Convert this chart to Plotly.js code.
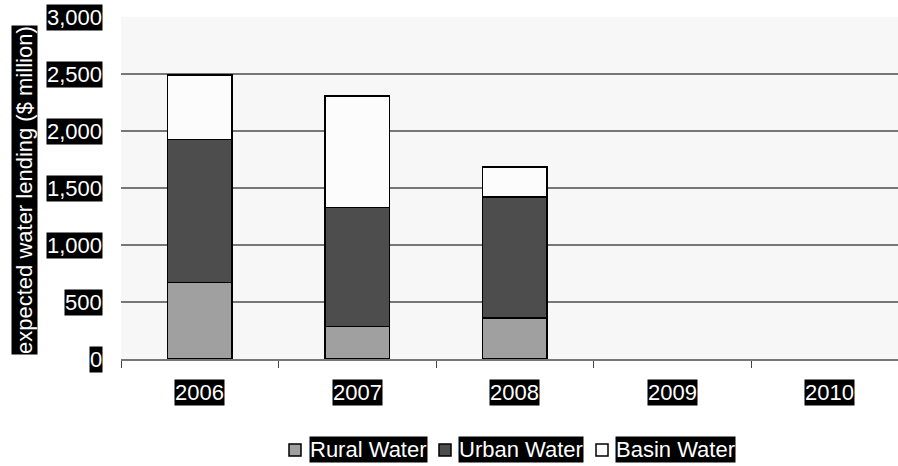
<!DOCTYPE html>
<html>
<head>
<meta charset="utf-8">
<script src="https://cdn.plot.ly/plotly-3.0.1.min.js"></script>
<style>html,body{margin:0;padding:0;background:#fff;}#chart{width:898px;height:466px;}</style>
</head>
<body>
<div id="chart"></div>
<script>
const years = ['2006', '2007', '2008', '2009', '2010'];
const seriesNames = ['Rural Water', 'Urban Water', 'Basin Water'];
const rural = [670, 285, 360, null, null];
const urban = [1255, 1045, 1060, null, null];
const basin = [565, 975, 265, null, null];
const yTicks = [0, 500, 1000, 1500, 2000, 2500, 3000];
const yTickLabels = ['0', '500', '1,000', '1,500', '2,000', '2,500', '3,000'];
const yTitle = 'expected water lending ($ million)';

const colors = ['#a0a0a0', '#4d4d4d', '#fcfcfc'];
const FONT = 'Arial, "Liberation Sans", sans-serif';
const values = [rural, urban, basin];

const traces = values.map((v, i) => ({
  type: 'bar', x: years, y: v, name: seriesNames[i],
  width: 0.41,
  marker: {color: colors[i], line: {color: '#000', width: 1.5}},
  showlegend: false, hoverinfo: 'skip'
}));

const annotations = [];
yTicks.forEach((t, i) => annotations.push({
  xref: 'paper', yref: 'y', x: 0, y: t, xanchor: 'right', yanchor: 'middle',
  xshift: -18, text: yTickLabels[i], showarrow: false, bgcolor: '#000', borderpad: 0,
  font: {family: FONT, size: 22, color: '#fff'}
}));
years.forEach((yr, i) => annotations.push({
  xref: 'x', yref: 'y', x: i, y: 0, xanchor: 'center', yanchor: 'top',
  yshift: -20, text: yr, showarrow: false, bgcolor: '#000', borderpad: 0,
  font: {family: FONT, size: 22, color: '#fff'}
}));
annotations.push({
  xref: 'paper', yref: 'paper', x: 0, y: 0.5, xanchor: 'center', yanchor: 'middle',
  xshift: -97, yshift: -2, text: yTitle, textangle: -90, showarrow: false, bgcolor: '#000', borderpad: 0,
  font: {family: FONT, size: 22, color: '#fff'}
});

// custom legend
const legendText = [309, 458, 615];
const swatchX = [289, 439, 596];
const shapes = [];
seriesNames.forEach((n, i) => {
  annotations.push({
    xref: 'paper', yref: 'paper', x: (legendText[i] - 121) / 777, y: 0,
    xanchor: 'left', yanchor: 'middle', yshift: -(449.5 - 359), text: n, showarrow: false,
    bgcolor: '#000', borderpad: 0, font: {family: FONT, size: 22, color: '#fff'}
  });
  shapes.push({
    type: 'rect', xref: 'paper', yref: 'paper', layer: 'above',
    x0: (swatchX[i] - 121) / 777, x1: (swatchX[i] + 12 - 121) / 777,
    y0: -(456 - 359) / 342, y1: -(444 - 359) / 342,
    fillcolor: colors[i], line: {color: '#000', width: 1.5}
  });
});

const layout = {
  width: 898, height: 466,
  margin: {l: 121, r: 0, t: 17, b: 107},
  paper_bgcolor: '#ffffff', plot_bgcolor: '#f7f7f7',
  barmode: 'stack', showlegend: false,
  font: {family: FONT, size: 22, color: '#000'},
  xaxis: {
    type: 'category', range: [-0.5, 4.433], tickson: 'boundaries',
    ticks: 'outside', ticklen: 7, tickcolor: '#444', tickwidth: 1,
    showticklabels: false, showline: true, linecolor: '#777', linewidth: 1.5,
    showgrid: false, zeroline: false, fixedrange: true
  },
  yaxis: {
    range: [0, 3000], tickvals: yTicks.slice(1, -1), showticklabels: false,
    ticks: '', showgrid: true, gridcolor: '#777', gridwidth: 1.2,
    showline: false, zeroline: false, fixedrange: true
  },
  annotations: annotations, shapes: shapes
};

Plotly.newPlot('chart', traces, layout, {displayModeBar: false, staticPlot: true});
</script>
</body>
</html>
